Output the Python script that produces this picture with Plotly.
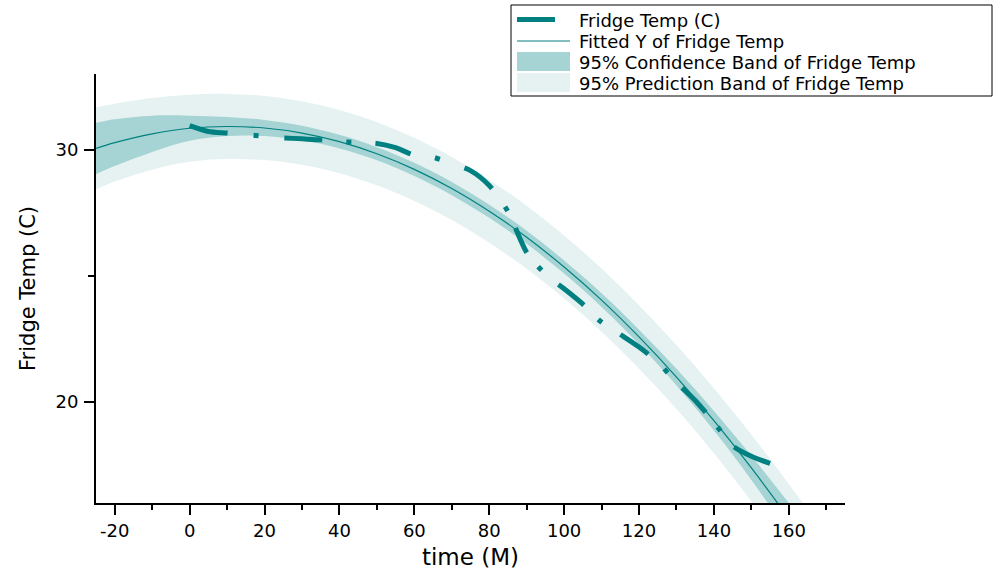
import plotly.graph_objects as go

# ---------------- data ----------------
data_x = [0, 5, 10, 15, 20, 25, 30, 35, 40, 45, 50, 55, 60, 65, 70, 75,
          80, 85, 90, 95, 100, 105, 110, 115, 120, 125, 130, 135, 140, 145, 150, 155]
data_y = [30.95, 30.72, 30.66, 30.60, 30.53, 30.47, 30.43, 30.39, 30.33, 30.28,
          30.25, 30.08, 29.78, 29.70, 29.45, 29.17, 28.58, 27.55, 25.93, 25.07,
          24.49, 23.88, 23.16, 22.68, 22.18, 21.58, 20.78, 20.06, 19.20, 18.27,
          17.85, 17.57]

band_x = [-25, -20, -10, 0, 10, 20, 30, 40, 50, 60, 70, 80, 90, 100, 110,
          120, 130, 140, 150, 160, 170]
fit_y = [30.05, 30.28, 30.63, 30.85, 30.92, 30.86, 30.66, 30.32, 29.84, 29.22,
         28.46, 27.56, 26.53, 25.35, 24.04, 22.58, 20.99, 19.26, 17.39, 15.38, 13.24]
conf_hi = [31.07, 31.21, 31.35, 31.35, 31.30, 31.18, 30.95, 30.59, 30.10, 29.48,
           28.72, 27.82, 26.79, 25.61, 24.31, 22.87, 21.32, 19.65, 17.87, 16.00, 14.04]
conf_lo = [29.03, 29.35, 29.91, 30.35, 30.54, 30.54, 30.37, 30.05, 29.58, 28.96,
           28.20, 27.30, 26.27, 25.09, 23.77, 22.29, 20.66, 18.87, 16.91, 14.76, 12.44]
pred_hi = [31.67, 31.82, 32.05, 32.18, 32.21, 32.13, 31.92, 31.57, 31.09, 30.47,
           29.71, 28.81, 27.78, 26.60, 25.29, 23.84, 22.26, 20.55, 18.71, 16.75, 14.69]
pred_lo = [28.43, 28.74, 29.21, 29.52, 29.63, 29.59, 29.40, 29.07, 28.59, 27.97,
           27.21, 26.31, 25.28, 24.10, 22.79, 21.32, 19.72, 17.97, 16.07, 14.01, 11.79]

x_ticks = [-20, 0, 20, 40, 60, 80, 100, 120, 140, 160]
x_tick_labels = ["-20", "0", "20", "40", "60", "80", "100", "120", "140", "160"]
y_ticks = [20, 30]
y_tick_labels = ["20", "30"]
legend_labels = ["Fridge Temp (C)", "Fitted Y of Fridge Temp",
                 "95% Confidence Band of Fridge Temp", "95% Prediction Band of Fridge Temp"]

# ---------------- style ----------------
TEAL = "#008080"
CONF = "#a6d3d3"
PRED = "#e6f2f2"
FONT = "DejaVu Sans"
W, H = 997, 572
ML, MR, MT, MB = 96, 152, 74, 69
# dash-dot pattern of the measured line (dash, gap, dot, gap per cycle)
DASH = ("39px,26px,5px,26px,38px,24px,5px,24px,37px,25px,5px,26px,"
        "35px,22px,5px,19px,27px,18px,5px,22px,33px,20px,5px,22px,"
        "34px,22px,5px,21px,34px,19px,5px,21px,40px,60px")


def px_x(px):
    return (px - ML) / (W - ML - MR)


def px_y(py):
    return (H - MB - py) / (H - MT - MB)


fig = go.Figure()
fig.add_trace(go.Scatter(x=band_x, y=pred_lo, mode="lines", line=dict(width=0, shape="spline"),
                         showlegend=False, hoverinfo="skip"))
fig.add_trace(go.Scatter(x=band_x, y=pred_hi, mode="lines", line=dict(width=0, shape="spline"),
                         fill="tonexty", fillcolor=PRED, showlegend=False, name=legend_labels[3]))
fig.add_trace(go.Scatter(x=band_x, y=conf_lo, mode="lines", line=dict(width=0, shape="spline"),
                         showlegend=False, hoverinfo="skip"))
fig.add_trace(go.Scatter(x=band_x, y=conf_hi, mode="lines", line=dict(width=0, shape="spline"),
                         fill="tonexty", fillcolor=CONF, showlegend=False, name=legend_labels[2]))
fig.add_trace(go.Scatter(x=band_x, y=fit_y, mode="lines",
                         line=dict(width=1.2, color=TEAL, shape="spline"),
                         showlegend=False, name=legend_labels[1]))
fig.add_trace(go.Scatter(x=data_x, y=data_y, mode="lines",
                         line=dict(width=5, color=TEAL, shape="spline", smoothing=0.8, dash=DASH),
                         showlegend=False, name=legend_labels[0]))

# ---------------- custom legend (box, symbols, texts) ----------------
shapes = [
    dict(type="rect", xref="paper", yref="paper", x0=px_x(511), x1=px_x(992),
         y0=px_y(96), y1=px_y(5), line=dict(color="black", width=1), fillcolor="white"),
    dict(type="line", xref="paper", yref="paper", x0=px_x(517), x1=px_x(555),
         y0=px_y(19.5), y1=px_y(19.5), line=dict(color=TEAL, width=5)),
    dict(type="line", xref="paper", yref="paper", x0=px_x(517), x1=px_x(570),
         y0=px_y(41), y1=px_y(41), line=dict(color=TEAL, width=1.2)),
    dict(type="rect", xref="paper", yref="paper", x0=px_x(517), x1=px_x(570),
         y0=px_y(71), y1=px_y(52), line=dict(width=0), fillcolor=CONF),
    dict(type="rect", xref="paper", yref="paper", x0=px_x(517), x1=px_x(570),
         y0=px_y(92), y1=px_y(73), line=dict(width=0), fillcolor=PRED),
]
row_y = [20.5, 41.5, 62.5, 83.5]
annotations = [
    dict(text=lab, xref="paper", yref="paper", x=px_x(577), y=px_y(ry),
         xanchor="left", yanchor="middle", showarrow=False,
         font=dict(family=FONT, size=18, color="black"))
    for lab, ry in zip(legend_labels, row_y)
]

axis_common = dict(
    showline=True, linecolor="black", linewidth=2, mirror=False,
    showgrid=False, zeroline=False, automargin=False,
    ticks="outside", ticklen=10, tickwidth=2, tickcolor="black",
    tickfont=dict(family=FONT, size=18, color="black"),
)

fig.update_layout(
    width=W, height=H,
    margin=dict(l=ML, r=MR, t=MT, b=MB, pad=0),
    paper_bgcolor="white", plot_bgcolor="white",
    showlegend=False,
    shapes=shapes, annotations=annotations,
    xaxis=dict(axis_common, range=[-25, 175], tickvals=x_ticks, ticktext=x_tick_labels,
               minor=dict(dtick=10, tick0=0, ticks="outside", ticklen=5, tickwidth=2, tickcolor="black"),
               title=dict(text="time (M)", font=dict(family=FONT, size=23, color="black"), standoff=9)),
    yaxis=dict(axis_common, range=[16, 33], tickvals=y_ticks, ticktext=y_tick_labels,
               ticklabelstandoff=2,
               minor=dict(dtick=5, tick0=0, ticks="outside", ticklen=6, tickwidth=2, tickcolor="black"),
               title=dict(text="Fridge Temp (C)", font=dict(family=FONT, size=21, color="black"), standoff=14)),
)

fig.write_html("out.html")
